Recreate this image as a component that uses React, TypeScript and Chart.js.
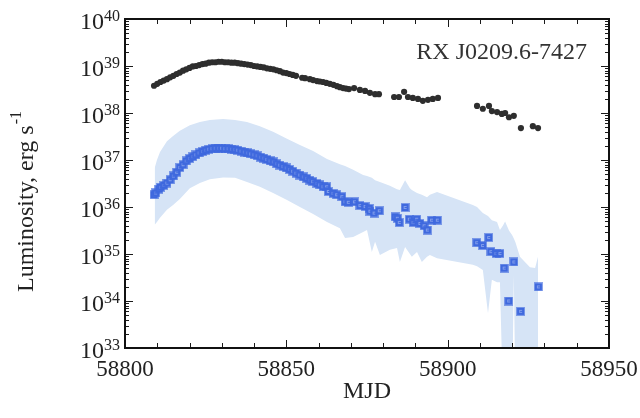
import React, { useEffect, useRef } from 'react';
import { Chart, registerables } from 'chart.js';

Chart.register(...registerables);

// ---------- data (MJD, log10 luminosity in erg/s) ----------
const blackMjd = [
  58809, 58810, 58811, 58812, 58813, 58814, 58815, 58816, 58817, 58818,
  58819, 58820, 58821, 58822, 58823, 58824, 58825, 58826, 58827, 58828,
  58829, 58830, 58831, 58832, 58833, 58834, 58835, 58836, 58837, 58838,
  58839, 58840, 58841, 58842, 58843, 58844, 58845, 58846, 58847, 58848,
  58849, 58850, 58851, 58852, 58853, 58854.9, 58855.8, 58857.3, 58858.3, 58859.5,
  58860.4, 58861.4, 58862.4, 58863.5, 58864.6, 58865.7, 58866.6, 58867.6, 58868.5, 58869.4,
  58871.0, 58872.8, 58874.4, 58875.9, 58877.5, 58878.7, 58883.4, 58884.9, 58886.5, 58887.7,
  58889.2, 58890.8, 58892.3, 58893.9, 58895.4, 58897.0, 58909.1, 58910.9, 58912.8, 58913.7,
  58915.3, 58916.8, 58917.8, 58919.0, 58920.5, 58922.7, 58926.4, 58928.0,
];
const blackLogL = [
  38.58, 38.62, 38.66, 38.69, 38.72, 38.76, 38.79, 38.83, 38.86, 38.90,
  38.93, 38.96, 38.99, 39.00, 39.02, 39.04, 39.05, 39.07, 39.08, 39.08,
  39.09, 39.09, 39.08, 39.08, 39.07, 39.07, 39.06, 39.05, 39.04, 39.03,
  39.02, 39.00, 38.99, 38.98, 38.97, 38.95, 38.94, 38.93, 38.91, 38.89,
  38.86, 38.85, 38.83, 38.81, 38.79, 38.75, 38.74, 38.72, 38.70, 38.68,
  38.67, 38.66, 38.64, 38.62, 38.60, 38.57, 38.55, 38.53, 38.52, 38.51,
  38.53, 38.49, 38.47, 38.43, 38.40, 38.40, 38.34, 38.34, 38.45, 38.34,
  38.32, 38.30, 38.26, 38.28, 38.30, 38.32, 38.15, 38.09, 38.15, 38.04,
  38.02, 37.98, 38.00, 37.91, 37.94, 37.68, 37.72, 37.68,
];

const blueMjd = [
  58809.0, 58809.5, 58810.5, 58811, 58812, 58813, 58814, 58815, 58816, 58817,
  58818, 58819, 58820, 58821, 58822, 58823, 58824, 58825, 58826, 58827,
  58828, 58829, 58830, 58831, 58832, 58833, 58834, 58835, 58836, 58837,
  58838, 58839, 58840, 58841, 58842, 58843, 58844, 58845, 58846, 58847,
  58848, 58849, 58850, 58851, 58852, 58853, 58854.2, 58855.3, 58856.3, 58857.3,
  58858.2, 58859.5, 58860.4, 58861.4, 58862.5, 58863.0, 58864.5, 58865.6, 58867.2, 58868.2,
  58869.2, 58871.1, 58872.8, 58874.4, 58875.7, 58875.9, 58877.2, 58878.8, 58883.7, 58884.4,
  58885.0, 58886.8, 58888.1, 58889.3, 58890.4, 58891.4, 58892.7, 58893.7, 58895.0, 58896.8,
  58909.0, 58910.8, 58912.7, 58913.4, 58915.0, 58916.2, 58917.5, 58918.9, 58920.5, 58922.6,
  58928.1,
];
const blueLogL = [
  36.26, 36.30, 36.38, 36.42, 36.46, 36.51, 36.58, 36.66, 36.74, 36.84,
  36.90, 36.98, 37.03, 37.07, 37.11, 37.15, 37.18, 37.21, 37.23, 37.24,
  37.25, 37.25, 37.25, 37.24, 37.24, 37.23, 37.22, 37.21, 37.19, 37.17,
  37.15, 37.13, 37.11, 37.09, 37.06, 37.04, 37.01, 36.98, 36.96, 36.92,
  36.89, 36.86, 36.83, 36.80, 36.76, 36.72, 36.68, 36.64, 36.61, 36.57,
  36.54, 36.50, 36.47, 36.43, 36.43, 36.33, 36.29, 36.26, 36.22, 36.11,
  36.10, 36.11, 36.03, 36.01, 35.97, 35.91, 35.87, 35.92, 35.79, 35.76,
  35.67, 35.99, 35.74, 35.67, 35.74, 35.65, 35.60, 35.51, 35.72, 35.72,
  35.24, 35.18, 35.35, 35.05, 35.01, 35.01, 34.70, 34.00, 34.83, 33.78,
  34.30,
];

const bandMjd = [
  58809.2, 58809.9, 58810.85, 58813.0, 58814.9, 58817.0, 58820.1, 58823.2, 58826.3, 58830.4,
  58834.1, 58837.8, 58841.8, 58845.9, 58850.2, 58854.2, 58858.3, 58862.6, 58866.6, 58868.2,
  58870.7, 58873.8, 58875.0, 58876.5, 58877.5, 58879.0, 58882.1, 58884.3, 58885.2, 58886.8,
  58888.3, 58888.9, 58890.5, 58892.0, 58893.6, 58894.5, 58896.7, 58907.8, 58909.1, 58910.9,
  58912.5, 58913.7, 58915.3, 58916.2, 58917.1, 58917.8, 58919.0, 58920.0, 58920.5, 58921.0,
  58922.4, 58925.5, 58927.1, 58928.0,
];
const bandUpperLog = [
  36.83, 37.00, 37.17, 37.40, 37.51, 37.62, 37.74, 37.81, 37.85, 37.87,
  37.85, 37.81, 37.72, 37.60, 37.45, 37.32, 37.19, 37.02, 36.91, 36.87,
  36.79, 36.68, 36.66, 36.62, 36.57, 36.53, 36.45, 36.38, 36.36, 36.57,
  36.40, 36.36, 36.30, 36.26, 36.21, 36.26, 36.32, 36.04, 36.00, 35.87,
  35.81, 35.72, 35.68, 35.51, 35.60, 35.69, 35.50, 35.40, 35.33, 35.25,
  34.94, 34.72, 34.70, 34.94,
];
const bandLowerLog = [
  35.62, 35.68, 35.77, 35.94, 36.04, 36.17, 36.40, 36.51, 36.59, 36.63,
  36.62, 36.53, 36.43, 36.30, 36.15, 36.00, 35.85, 35.68, 35.55, 35.34,
  35.36, 35.47, 35.51, 35.04, 35.26, 34.98, 35.09, 35.13, 34.83, 35.15,
  35.00, 34.94, 35.04, 34.83, 34.94, 34.98, 34.91, 34.77, 34.74, 34.66,
  33.74, 34.45, 34.40, 34.40, 32.00, 32.00, 32.00, 32.00, 34.55, 32.00,
  32.00, 32.00, 32.00, 32.00,
];

const xMin = 58800;
const xMax = 58950;
const xTickStep = 50;
const xMinorStep = 10;
const yExponents = [33, 34, 35, 36, 37, 38, 39, 40];
const sourceName = 'RX J0209.6-7427';
const xTitle = 'MJD';
const yTitle = 'Luminosity, erg s';
const yTitleSup = '-1';

const SERIF = '"Liberation Serif", "Times New Roman", serif';
const TEXT = '#222';

function toPoints(xs: number[], logs: number[]) {
  return xs.map((x, i) => ({ x, y: Math.pow(10, logs[i]) }));
}

function makeSquare(): HTMLCanvasElement {
  const c = document.createElement('canvas');
  c.width = 9;
  c.height = 9;
  const g = c.getContext('2d')!;
  g.fillStyle = 'rgba(62,103,222,0.6)';
  g.fillRect(0, 0, 9, 9);
  g.fillStyle = '#3f69de';
  g.fillRect(1, 1, 7, 7);
  g.fillStyle = 'rgba(210,222,250,0.45)';
  g.fillRect(3, 3, 3, 1);
  g.fillRect(3, 4, 1, 1);
  g.fillRect(3, 5, 3, 1);
  return c;
}

const framePlugin = {
  id: 'frameTicks',
  afterDraw(chart: any) {
    const { ctx, chartArea: a, scales } = chart;
    const xs = scales.x;
    const ys = scales.y;
    ctx.save();
    ctx.strokeStyle = '#1a1a1a';
    ctx.lineWidth = 1;
    ctx.beginPath();
    for (let v = xMin; v <= xMax; v += xMinorStep) {
      const px = Math.round(xs.getPixelForValue(v)) + 0.5;
      const len = (v - xMin) % xTickStep === 0 ? 8 : 5;
      ctx.moveTo(px, a.bottom);
      ctx.lineTo(px, a.bottom - len);
      ctx.moveTo(px, a.top);
      ctx.lineTo(px, a.top + len);
    }
    for (let i = 0; i < yExponents.length; i++) {
      const e = yExponents[i];
      for (let k = 1; k <= 9; k++) {
        if (k > 1 && i === yExponents.length - 1) break;
        const py = Math.round(ys.getPixelForValue(k * Math.pow(10, e))) + 0.5;
        const len = k === 1 ? 8 : 4;
        ctx.moveTo(a.left, py);
        ctx.lineTo(a.left + len, py);
        ctx.moveTo(a.right, py);
        ctx.lineTo(a.right - len, py);
      }
    }
    ctx.stroke();

    ctx.lineWidth = 2;
    ctx.strokeStyle = '#111';
    ctx.strokeRect(a.left, a.top, a.right - a.left, a.bottom - a.top);

    // y tick labels 10^n
    ctx.fillStyle = TEXT;
    ctx.textAlign = 'right';
    ctx.textBaseline = 'alphabetic';
    for (const e of yExponents) {
      const py = ys.getPixelForValue(Math.pow(10, e));
      ctx.font = `16px ${SERIF}`;
      const ex = String(e);
      const w = ctx.measureText(ex).width;
      ctx.fillText(ex, a.left - 5, py + 2);
      ctx.font = `24px ${SERIF}`;
      ctx.fillText('10', a.left - 5 - w, py + 10);
    }

    // y title
    ctx.save();
    ctx.translate(33, 292);
    ctx.rotate(-Math.PI / 2);
    ctx.textAlign = 'left';
    ctx.font = `24px ${SERIF}`;
    ctx.fillText(yTitle, 0, 0);
    const tw = ctx.measureText(yTitle).width;
    ctx.font = `16px ${SERIF}`;
    ctx.fillText(yTitleSup, tw + 1, -12);
    ctx.restore();

    // source name
    ctx.font = `24px ${SERIF}`;
    ctx.textAlign = 'right';
    ctx.fillStyle = '#333';
    ctx.fillText(sourceName, 587, 59);
    ctx.restore();
  },
};

export default function App() {
  const ref = useRef<HTMLCanvasElement | null>(null);
  useEffect(() => {
    if (!ref.current) return;
    const square = makeSquare();
    const chart = new Chart(ref.current, {
      type: 'line',
      data: {
        datasets: [
          {
            label: 'total',
            data: toPoints(blackMjd, blackLogL),
            showLine: false,
            pointRadius: 3.1,
            pointBorderWidth: 0,
            pointBackgroundColor: '#2e2e2e',
            pointBorderColor: '#2e2e2e',
          },
          {
            label: 'pulsar',
            data: toPoints(blueMjd, blueLogL),
            showLine: false,
            pointStyle: square as any,
            pointRadius: 4,
            pointBackgroundColor: '#3d68dd',
          },
          {
            label: 'upper',
            data: toPoints(bandMjd, bandUpperLog),
            borderWidth: 0,
            borderColor: 'rgba(0,0,0,0)',
            pointRadius: 0,
            backgroundColor: '#d6e4f6',
            fill: '+1',
          },
          {
            label: 'lower',
            data: toPoints(bandMjd, bandLowerLog),
            borderWidth: 0,
            borderColor: 'rgba(0,0,0,0)',
            pointRadius: 0,
            fill: false,
          },
        ],
      },
      options: {
        responsive: false,
        animation: false,
        events: [],
        layout: { padding: { left: 0, right: 31, top: 19, bottom: 0 } },
        plugins: { legend: { display: false }, tooltip: { enabled: false } },
        scales: {
          x: {
            type: 'linear',
            min: xMin,
            max: xMax,
            afterFit: (s: any) => {
              s.height = 70;
              s.paddingLeft = 0;
              s.paddingRight = 0;
            },
            grid: { display: false, drawTicks: false },
            border: { display: false },
            ticks: {
              stepSize: xTickStep,
              padding: 8,
              maxRotation: 0,
              color: TEXT,
              font: { family: SERIF, size: 23 },
              callback: (v: any) => String(v),
            },
            title: {
              display: true,
              text: xTitle,
              color: TEXT,
              font: { family: SERIF, size: 24 },
              padding: { top: 0, bottom: 12 },
            },
          },
          y: {
            type: 'logarithmic',
            min: 1e33,
            max: 1e40,
            afterFit: (s: any) => {
              s.width = 125;
              s.paddingTop = 0;
              s.paddingBottom = 0;
            },
            grid: { display: false, drawTicks: false },
            border: { display: false },
            ticks: { display: false },
          },
        },
      },
      plugins: [framePlugin],
    } as any);
    return () => chart.destroy();
  }, []);
  return (
    <div style={{ position: 'absolute', left: 0, top: 0, width: 640, height: 418, background: '#fff' }}>
      <canvas ref={ref} width={640} height={418} style={{ display: 'block' }} />
    </div>
  );
}
